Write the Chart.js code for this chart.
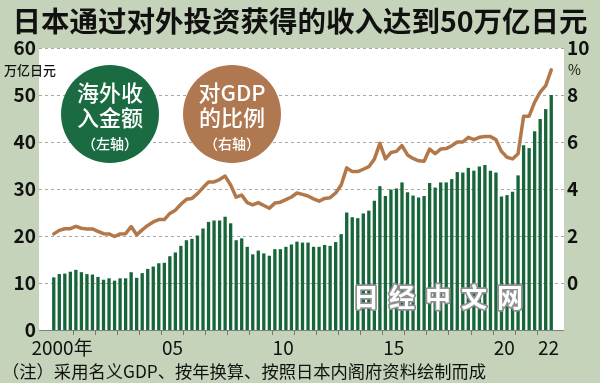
<!DOCTYPE html>
<html><head><meta charset="utf-8">
<script src="https://cdn.jsdelivr.net/npm/chart.js@4.4.1/dist/chart.umd.min.js"></script>
<style>html,body{margin:0;padding:0;background:#c5d3ba;}canvas{display:block}</style>
</head><body>
<canvas id="c" width="600" height="383"></canvas>
<script>
// ---- data ----
const years = [2000,2001,2002,2003,2004,2005,2006,2007,2008,2009,2010,2011,2012,2013,2014,2015,2016,2017,2018,2019,2020,2021,2022];
const quarters = ['Q1','Q2','Q3','Q4'];
// overseas income, trillion yen (left axis), 2000Q1 .. 2022Q3
const income = [
 11.2,11.9,12.0,12.4, 12.8,12.3,11.9,11.8, 11.3,10.7,11.0,10.5, 11.0,11.0,12.3,11.1,
 12.1,13.0,13.5,14.2, 14.3,15.7,16.5,17.9, 19.1,19.4,20.1,21.6, 23.0,23.3,23.3,24.1,
 22.7,19.1,19.5,17.7, 16.1,16.9,16.3,15.8, 17.2,17.2,17.7,18.2, 18.8,18.6,18.6,17.7,
 17.7,18.1,17.9,18.7, 20.4,25.0,24.0,23.8, 24.8,25.4,27.5,30.6, 28.5,29.9,30.1,31.4,
 29.3,28.6,28.2,28.5, 31.3,30.3,31.4,31.4, 32.1,33.6,33.5,34.5, 33.9,34.8,35.1,33.9,
 33.5,28.4,28.7,29.4, 32.9,39.3,38.7,42.3, 44.9,47.0,50.0
];
// ratio to GDP, % (right axis)
const ratio = [
 2.09,2.24,2.31,2.31, 2.41,2.33,2.30,2.30, 2.20,2.10,2.09,1.98, 2.09,2.10,2.40,2.05,
 2.26,2.45,2.60,2.70, 2.70,2.96,3.10,3.35, 3.56,3.60,3.80,4.06, 4.30,4.30,4.40,4.55,
 4.17,3.65,3.74,3.42, 3.32,3.42,3.30,3.18, 3.40,3.44,3.55,3.66, 3.83,3.77,3.70,3.58,
 3.48,3.60,3.63,3.83, 4.17,4.90,4.74,4.74, 4.84,4.95,5.27,5.94, 5.28,5.55,5.60,5.85,
 5.45,5.30,5.20,5.18, 5.70,5.50,5.70,5.72, 5.84,6.00,6.00,6.20, 6.10,6.20,6.23,6.23,
 6.10,5.60,5.35,5.28, 5.50,7.10,7.10,7.70, 8.12,8.40,9.07
];
const xTickLabels = {'2000Q2':'2000年','2005Q2':'05','2010Q2':'10','2015Q2':'15','2020Q2':'20','2022Q2':'22'};
const leftTicks = [0,10,20,30,40,50,60];
const rightTicks = [0,2,4,6,8,10];

const categories = [];
years.forEach(y => quarters.forEach(q => categories.push(y + q)));
categories.length = income.length;

// ---- styles ----
const BG = '#c5d3ba';
const GREEN = '#17663a';
const BROWN = '#b3784a';
const FF = '"Noto Sans CJK SC","Noto Sans",sans-serif';

const decor = {
  id: 'decor',
  beforeDraw(chart) {
    const {ctx, chartArea: a, scales} = chart;
    const L = a.left - 12, R = a.right + 10;
    ctx.save();
    ctx.fillStyle = BG; ctx.fillRect(0, 0, chart.width, chart.height);
    ctx.fillStyle = '#fff'; ctx.fillRect(L, a.top, R - L, a.bottom - a.top);
    ctx.strokeStyle = '#a8a8a8'; ctx.lineWidth = 1; ctx.setLineDash([3, 3]);
    leftTicks.forEach(v => {
      if (v === 0) return;
      const y = Math.round(scales.y.getPixelForValue(v)) + 0.5;
      ctx.beginPath(); ctx.moveTo(L, y); ctx.lineTo(R, y); ctx.stroke();
    });
    ctx.setLineDash([]);
    ctx.strokeStyle = '#808080';
    const yb = Math.round(a.bottom) + 0.5;
    ctx.beginPath(); ctx.moveTo(L, yb); ctx.lineTo(R, yb); ctx.stroke();
    ctx.restore();
  },
  afterDatasetsDraw(chart) {
    const {ctx} = chart;
    ctx.save();
    // legend circles
    const circ = (cx, cy, col, l1, l2, l3) => {
      ctx.fillStyle = col;
      ctx.beginPath(); ctx.arc(cx, cy, 49, 0, Math.PI * 2); ctx.fill();
      ctx.fillStyle = '#fff'; ctx.textAlign = 'center'; ctx.textBaseline = 'middle';
      ctx.font = '500 22px ' + FF;
      ctx.fillText(l1, cx, 93);
      ctx.fillText(l2, cx, 118);
      ctx.font = '500 14px ' + FF;
      ctx.fillText(l3, cx, 144);
    };
    circ(110, 114, '#1b6b42', '海外收', '入金额', '（左轴）');
    circ(232, 114, '#b07850', '对GDP', '的比例', '（右轴）');
    // watermark
    ctx.font = 'bold 26px ' + FF;
    ctx.textAlign = 'center'; ctx.textBaseline = 'middle';
    ctx.lineJoin = 'round';
    const wm = ['日','经','中','文','网'];
    wm.forEach((ch, i) => {
      const x = 366 + i * 36, y = 297;
      ctx.strokeStyle = '#909090'; ctx.lineWidth = 3.5; ctx.strokeText(ch, x, y);
      ctx.fillStyle = '#fff'; ctx.fillText(ch, x, y);
    });
    ctx.restore();
  },
  afterDraw(chart) {
    const {ctx} = chart;
    ctx.save();
    ctx.fillStyle = '#111';
    ctx.textBaseline = 'alphabetic'; ctx.textAlign = 'center';
    ctx.font = 'bold 28.5px ' + FF;
    ctx.fillText('日本通过对外投资获得的收入达到50万亿日元', 300, 32);
    ctx.textBaseline = 'middle';
    ctx.textAlign = 'left';
    ctx.font = '500 13px ' + FF;
    ctx.fillText('万亿日元', 4, 70);
    ctx.font = '14px ' + FF;
    ctx.fillText('%', 568, 70);
    ctx.font = '17.3px ' + FF;
    ctx.fillText('（注）采用名义GDP、按年换算、按照日本内阁府资料绘制而成', 2, 371);
    ctx.restore();
  }
};

new Chart(document.getElementById('c'), {
  data: {
    labels: categories,
    datasets: [
      {type: 'line', data: ratio, yAxisID: 'y2', borderColor: BROWN, borderWidth: 3.5,
       pointRadius: 0, tension: 0, borderJoinStyle: 'round', borderCapStyle: 'round', order: 0},
      {type: 'bar', data: income, yAxisID: 'y', backgroundColor: GREEN,
       barPercentage: 0.6, categoryPercentage: 1.0, order: 1}
    ]
  },
  options: {
    responsive: false, animation: false, devicePixelRatio: 1,
    layout: {padding: {top: 48, bottom: 0, left: 0, right: 0}},
    plugins: {legend: {display: false}, tooltip: {enabled: false}, title: {display: false}},
    scales: {
      x: {
        offset: true,
        grid: {display: true, drawOnChartArea: false, drawTicks: true, tickLength: 5, offset: true, lineWidth: 1,
               color: c => (c.index % 4 === 0 && c.index > 0 && c.index < categories.length) ? '#777' : 'rgba(0,0,0,0)'},
        border: {display: false},
        ticks: {autoSkip: false, maxRotation: 0, minRotation: 0, padding: 1, labelOffset: 2.76,
                color: '#111', font: {family: FF, size: 19},
                callback: (v, i) => xTickLabels[categories[i]] || ''},
        afterFit: s => { s.height = 53; }
      },
      y: {
        position: 'left', min: 0, max: 60,
        afterBuildTicks: s => { s.ticks = leftTicks.map(v => ({value: v})); },
        grid: {display: false, drawTicks: false}, border: {display: false},
        ticks: {padding: 15, color: '#111', font: {family: FF, size: 19, weight: 'bold'}},
        afterFit: s => { s.width = 51; }
      },
      y2: {
        position: 'right', min: -2, max: 10,
        afterBuildTicks: s => { s.ticks = rightTicks.map(v => ({value: v})); },
        grid: {display: false, drawTicks: false}, border: {display: false},
        ticks: {padding: 13, color: '#111', font: {family: FF, size: 19, weight: 'bold'}},
        afterFit: s => { s.width = 46; }
      }
    }
  },
  plugins: [decor]
});
</script>
</body></html>
